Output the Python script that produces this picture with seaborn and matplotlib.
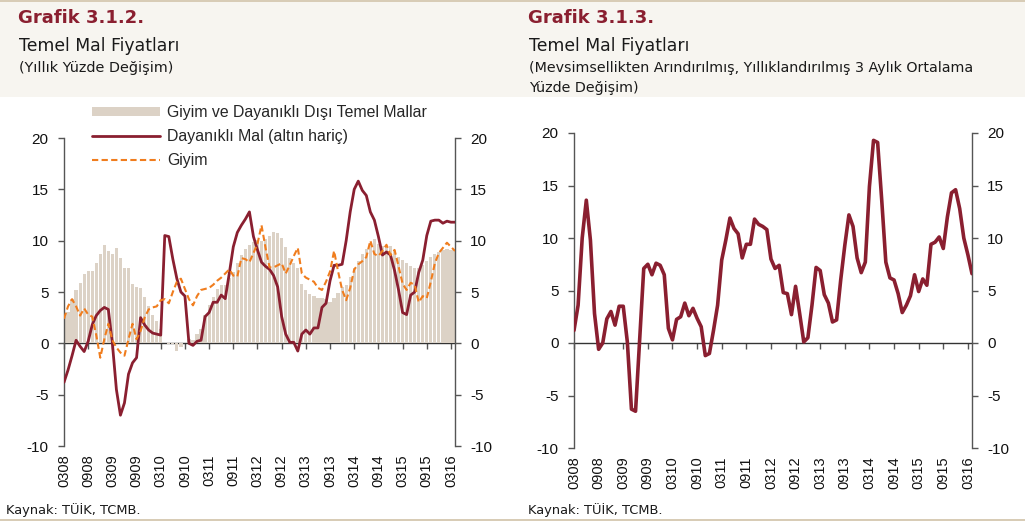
import numpy as np
import matplotlib
matplotlib.use('Agg')
import matplotlib.pyplot as plt
import seaborn as sns
from matplotlib.patches import Rectangle, Patch
from matplotlib.lines import Line2D

# x ekseni etiketleri (her 6 ayda bir)
tick_labels = ['0308', '0908', '0309', '0909', '0310', '0910', '0311', '0911', '0312',
               '0912', '0313', '0913', '0314', '0914', '0315', '0915', '0316']

# Grafik 3.1.2 - yıllık yüzde değişim
giyim_dd_dis = [2.6, 3.1, 4.3, 5.2, 5.9, 6.8, 7.0, 7.0, 7.8, 8.7, 9.6, 9.0, 8.7, 9.3, 8.3, 7.3,
                7.3, 5.8, 5.5, 5.4, 4.5, 3.6, 2.8, 2.2, 1.4, 0.0, -0.1, -0.1, -0.7, -0.4, 0.0, 0.4,
                0.3, 0.9, 1.4, 2.8, 3.7, 4.5, 5.3, 5.7, 5.7, 6.4, 6.9, 7.8, 8.6, 9.2, 9.6, 9.9,
                10.1, 10.0, 10.2, 10.5, 10.8, 10.7, 10.3, 9.4, 8.3, 7.8, 7.3, 5.8, 5.2, 4.8, 4.6, 4.4,
                4.4, 4.3, 4.0, 4.4, 4.9, 5.5, 5.7, 6.5, 7.3, 8.0, 8.7, 9.2, 9.8, 10.2, 9.7, 9.5,
                9.4, 9.5, 9.0, 8.4, 8.1, 7.8, 7.5, 7.3, 7.3, 7.6, 8.0, 8.4, 8.7, 8.9, 9.1, 9.2,
                9.1, 9.2]
dayanikli = [-3.8, -2.6, -1.2, 0.3, -0.3, -0.8, 0.2, 1.8, 2.7, 3.2, 3.5, 3.3, 0.0, -4.5, -7.0, -5.8,
             -3.0, -1.9, -1.4, 2.5, 1.8, 1.3, 1.0, 0.9, 0.8, 10.5, 10.4, 8.2, 6.3, 5.0, 4.6, 0.0,
             -0.2, 0.2, 0.3, 2.6, 3.0, 4.0, 4.0, 4.7, 4.35, 6.8, 9.4, 10.8, 11.5, 12.1, 12.8, 10.4,
             9.1, 7.9, 7.5, 7.2, 6.6, 5.5, 2.6, 0.9, 0.1, 0.1, -0.75, 0.9, 1.3, 0.9, 1.5, 1.5,
             3.5, 3.9, 6.1, 7.6, 7.6, 7.7, 10.0, 12.8, 15.0, 15.8, 14.9, 14.4, 12.8, 12.0, 10.4, 8.6,
             8.9, 8.6, 7.1, 5.2, 3.0, 2.8, 4.7, 5.0, 6.9, 8.1, 10.5, 11.9, 12.0, 12.0, 11.7, 11.9,
             11.8, 11.8]
giyim = [2.4, 3.6, 4.3, 3.6, 2.7, 3.4, 2.8, 2.6, 0.8, -1.4, 0.4, 1.9, 0.3, -0.4, -0.9, -1.2,
         0.4, 1.9, 0.4, 1.2, 2.5, 3.3, 3.5, 3.6, 4.2, 4.3, 3.9, 5.0, 6.0, 6.3, 5.3, 4.3,
         3.7, 4.6, 5.2, 5.3, 5.4, 5.7, 6.1, 6.4, 6.8, 7.2, 6.6, 6.5, 8.3, 8.2, 7.9, 8.8,
         9.7, 11.5, 9.3, 7.4, 7.4, 7.6, 7.8, 6.8, 7.6, 8.5, 9.3, 6.8, 6.4, 6.2, 6.0, 5.4,
         5.2, 6.0, 7.0, 9.0, 7.0, 5.2, 4.2, 5.4, 7.2, 7.7, 8.0, 8.4, 10.0, 8.7, 8.5, 9.0,
         9.6, 8.6, 9.1, 7.5, 5.8, 5.2, 5.9, 5.7, 4.0, 4.6, 4.4, 6.0, 7.8, 8.8, 9.3, 9.8,
         9.4, 9.0]

# Grafik 3.1.3 - mevsimsellikten arındırılmış, yıllıklandırılmış 3 aylık ortalama
mevsimsel = [1.2, 3.6, 10.0, 13.6, 9.8, 2.8, -0.6, 0.0, 2.3, 3.0, 1.7, 3.5, 3.5, 0.1, -6.3, -6.5,
             0.3, 7.1, 7.5, 6.5, 7.6, 7.4, 6.5, 1.4, 0.3, 2.25, 2.5, 3.8, 2.6, 3.3, 2.35, 1.55,
             -1.2, -1.0, 1.2, 3.6, 7.9, 9.8, 11.9, 10.9, 10.4, 8.1, 9.4, 9.4, 11.8, 11.3, 11.1, 10.8,
             8.0, 7.1, 7.4, 4.8, 4.7, 2.7, 5.4, 2.8, 0.1, 0.5, 3.6, 7.2, 6.9, 4.6, 3.8, 2.0,
             2.2, 6.0, 9.3, 12.2, 11.1, 8.1, 6.7, 7.7, 14.9, 19.3, 19.1, 13.6, 7.7, 6.2, 6.0, 4.7,
             2.9, 3.6, 4.5, 6.5, 4.9, 6.1, 5.5, 9.4, 9.6, 10.1, 9.0, 12.0, 14.3, 14.6, 12.8, 10.0,
             8.4, 6.6]

months = np.arange(len(dayanikli))
tick_pos = np.arange(0, len(months), 6)

RED = '#8a1f30'
ORANGE = '#f07d1e'
BEIGE = '#dcd2c6'
SPINE = '#555555'
W, H = 1025, 523

sns.set_theme(style='white')
plt.rcParams['font.family'] = ['Liberation Sans', 'DejaVu Sans']
plt.rcParams['axes.unicode_minus'] = False

fig = plt.figure(figsize=(W / 100, H / 100), dpi=100)
fig.patch.set_facecolor('white')

# başlık bandı ve kenar çizgileri
fig.add_artist(Rectangle((0, 1 - 97 / H), 1, 95 / H, transform=fig.transFigure,
                         facecolor='#f7f5f0', edgecolor='none', zorder=0))
fig.add_artist(Rectangle((0, 1 - 2 / H), 1, 2 / H, transform=fig.transFigure,
                         facecolor='#d8ccb6', edgecolor='none', zorder=0))
fig.add_artist(Rectangle((0, 1 - 521 / H), 1, 2 / H, transform=fig.transFigure,
                         facecolor='#d8ccb6', edgecolor='none', zorder=0))


def ftext(x, y, s, **kw):
    fig.text(x / W, 1 - y / H, s, va='center', ha='left', **kw)


TFONT = ['DejaVu Sans']
ftext(18, 18, 'Grafik 3.1.2.', fontsize=13, fontweight='bold', color=RED, family=TFONT)
ftext(19, 46, 'Temel Mal Fiyatları', fontsize=12.4, color='#1a1a1a', family=TFONT)
ftext(19, 68, '(Yıllık Yüzde Değişim)', fontsize=10.4, color='#1a1a1a', family=TFONT)
ftext(528, 18, 'Grafik 3.1.3.', fontsize=13, fontweight='bold', color=RED, family=TFONT)
ftext(529, 46, 'Temel Mal Fiyatları', fontsize=12.4, color='#1a1a1a', family=TFONT)
ftext(529, 68, '(Mevsimsellikten Arındırılmış, Yıllıklandırılmış 3 Aylık Ortalama',
      fontsize=10.3, color='#1a1a1a', family=TFONT)
ftext(529, 88, 'Yüzde Değişim)', fontsize=10.3, color='#1a1a1a', family=TFONT)
ftext(6, 510, 'Kaynak: TÜİK, TCMB.', fontsize=9.4, color='#1a1a1a', family=TFONT)
ftext(528, 510, 'Kaynak: TÜİK, TCMB.', fontsize=9.4, color='#1a1a1a', family=TFONT)


def style_axis(ax):
    ax.set_xlim(0, len(months) - 1)
    ax.set_ylim(-10, 20)
    ax.set_yticks(range(-10, 25, 5))
    ax.set_facecolor('none')
    for s in ['top', 'bottom']:
        ax.spines[s].set_visible(False)
    for s in ['left', 'right']:
        ax.spines[s].set_visible(True)
        ax.spines[s].set_color(SPINE)
        ax.spines[s].set_linewidth(1.0)
    ax.tick_params(axis='y', which='both', left=True, right=True, labelleft=True,
                   labelright=True, direction='out', length=4, width=1, color=SPINE,
                   labelsize=11, pad=7, labelcolor='#111111')
    ax.set_xticks(tick_pos)
    ax.set_xticklabels(tick_labels, rotation=90, fontsize=10.5, color='#111111')
    ax.tick_params(axis='x', length=0, pad=6)
    ax.set_xlabel('')
    ax.set_ylabel('')
    # sıfır çizgisi üzerinde işaretler
    sec = ax.secondary_xaxis(1 / 3)
    sec.set_xticks(tick_pos)
    sec.set_xticklabels([])
    sec.tick_params(axis='x', direction='out', length=4, width=1, color=SPINE)
    sec.spines['bottom'].set_color('#333333')
    sec.spines['bottom'].set_linewidth(1.0)


# sol grafik
ax1 = fig.add_axes([64 / W, 1 - 446 / H, (455 - 64) / W, (446 - 138) / H])
sns.barplot(x=months, y=giyim_dd_dis, native_scale=True, width=0.8, color=BEIGE,
            saturation=1, linewidth=0, ax=ax1, zorder=1)
sns.lineplot(x=months, y=dayanikli, color=RED, linewidth=2.0, ax=ax1, zorder=3)
sns.lineplot(x=months, y=giyim, color=ORANGE, linewidth=1.5, linestyle=(0, (3, 1.6)),
             ax=ax1, zorder=4)
style_axis(ax1)

handles = [Patch(facecolor=BEIGE, edgecolor='none'),
           Line2D([], [], color=RED, linewidth=2.0),
           Line2D([], [], color=ORANGE, linewidth=1.5, linestyle=(0, (3, 1.6)))]
labels = ['Giyim ve Dayanıklı Dışı Temel Mallar', 'Dayanıklı Mal (altın hariç)', 'Giyim']
fig.legend(handles, labels, loc='upper left', bbox_to_anchor=(92 / W, 1 - 105 / H),
           frameon=False, fontsize=11.4, handlelength=4.3, handleheight=0.5,
           handletextpad=0.45, labelspacing=0.58, borderpad=0, borderaxespad=0)

# sağ grafik
ax2 = fig.add_axes([574 / W, 1 - 448 / H, (972 - 574) / W, (448 - 133) / H])
sns.lineplot(x=months, y=mevsimsel, color=RED, linewidth=2.6, ax=ax2, zorder=3)
style_axis(ax2)

fig.savefig('out.png', dpi=100, facecolor=fig.get_facecolor())
